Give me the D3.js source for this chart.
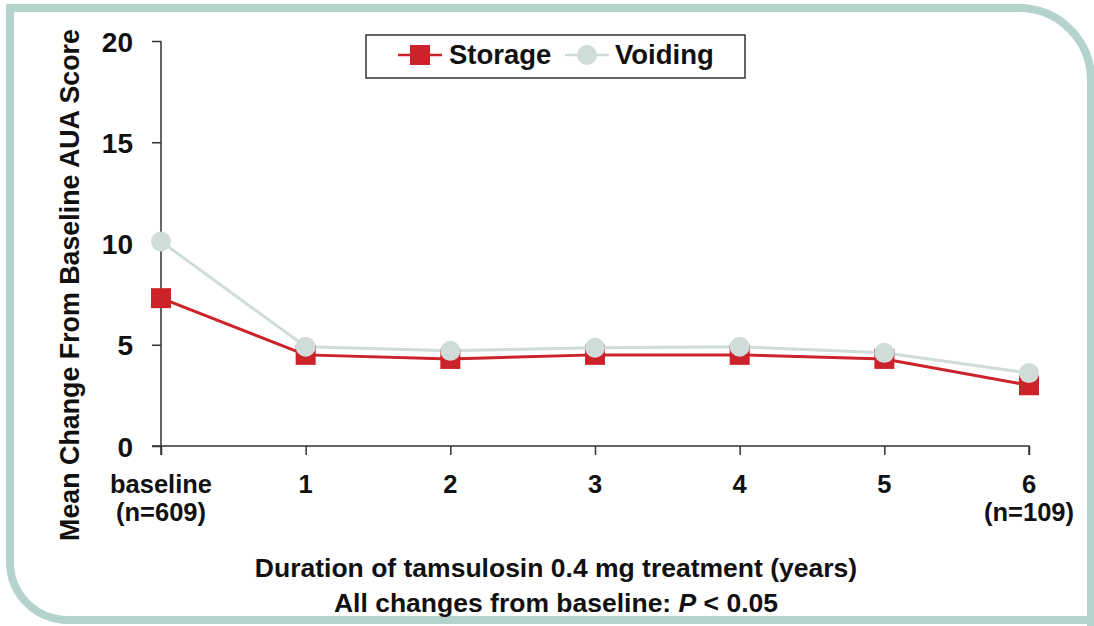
<!DOCTYPE html>
<html>
<head>
<meta charset="utf-8">
<script src="https://cdn.jsdelivr.net/npm/d3@7"></script>
<style>
  body { margin: 0; background: #fff; }
  svg { display: block; font-family: 'Liberation Sans', Arial, sans-serif; font-weight: bold; }
</style>
</head>
<body>
<svg id="chart" width="1094" height="626"></svg>
<script>
// Data
const categories = ['baseline', '1', '2', '3', '4', '5', '6'];
const subLabels = ['(n=609)', '', '', '', '', '', '(n=109)'];
const storage = [7.3, 4.5, 4.3, 4.5, 4.5, 4.3, 3.0];
const voiding = [10.1, 4.9, 4.7, 4.85, 4.9, 4.6, 3.6];
const yTicks = [0, 5, 10, 15, 20];

const red = '#cc2229';
const grey = '#d0dcd9';
const axisCol = '#333';

const svg = d3.select('#chart');

// frame with rounded corners (top-right and bottom-left)
const fx0 = 10, fy0 = 8, fx1 = 1091, fy1 = 620, rTR = 72, rBL = 58;
svg.append('path')
  .attr('d', `M${fx0},${fy1 - rBL} L${fx0},${fy0} L${fx1 - rTR},${fy0} A${rTR},${rTR} 0 0 1 ${fx1},${fy0 + rTR} L${fx1},${fy1 + 20} M${fx0},${fy1 - rBL} A${rBL},${rBL} 0 0 0 ${fx0 + rBL},${fy1} L${fx1 + 10},${fy1}`)
  .attr('fill', 'none')
  .attr('stroke', '#b3d3cc')
  .attr('stroke-width', 8);

const x = d3.scalePoint().domain(categories).range([161, 1029]);
const y = d3.scaleLinear().domain([0, 20]).range([446, 41]);

// y axis
const yAxis = svg.append('g')
  .attr('transform', 'translate(161,0)')
  .call(d3.axisLeft(y).tickValues(yTicks).tickSize(9).tickPadding(19));
yAxis.select('.domain').attr('stroke', axisCol).attr('stroke-width', 1.5).attr('d', 'M0,41V455');
yAxis.selectAll('.tick line').attr('stroke', axisCol).attr('stroke-width', 1.5);
yAxis.selectAll('.tick text')
  .attr('fill', '#111')
  .attr('dy', '0.36em')
  .style('font-size', '28px')
  .style('font-weight', 'bold')
  .style('font-family', "'Liberation Sans', Arial, sans-serif");

// x axis
const xAxis = svg.append('g')
  .attr('transform', 'translate(0,446)')
  .call(d3.axisBottom(x).tickSize(9).tickFormat(''));
xAxis.select('.domain').attr('stroke', axisCol).attr('stroke-width', 1.5).attr('d', 'M152,0H1029V9');
xAxis.selectAll('.tick line').attr('stroke', axisCol).attr('stroke-width', 1.5);

const xl = svg.append('g')
  .style('font-size', '25.5px')
  .attr('fill', '#111')
  .attr('text-anchor', 'middle');
xl.selectAll('text.cat')
  .data(categories)
  .join('text')
  .attr('class', 'cat')
  .attr('x', d => x(d))
  .attr('y', 493)
  .text(d => d);
xl.selectAll('text.sub')
  .data(categories.map((c, i) => [c, subLabels[i]]))
  .join('text')
  .attr('class', 'sub')
  .attr('x', d => x(d[0]))
  .attr('y', 521)
  .text(d => d[1]);

// axis titles
svg.append('text')
  .attr('transform', 'translate(79,285) rotate(-90)')
  .attr('text-anchor', 'middle')
  .attr('fill', '#111')
  .style('font-size', '26.8px')
  .text('Mean Change From Baseline AUA Score');

svg.append('text')
  .attr('x', 556).attr('y', 577)
  .attr('text-anchor', 'middle')
  .attr('fill', '#111')
  .style('font-size', '26.5px')
  .text('Duration of tamsulosin 0.4 mg treatment (years)');

const note = svg.append('text')
  .attr('x', 556).attr('y', 612)
  .attr('text-anchor', 'middle')
  .attr('fill', '#111')
  .style('font-size', '26.5px');
note.append('tspan').text('All changes from baseline: ');
note.append('tspan').style('font-style', 'italic').text('P');
note.append('tspan').text(' < 0.05');

// lines
const line = d3.line().x((d, i) => x(categories[i])).y(d => y(d));

svg.append('path').datum(voiding)
  .attr('d', line).attr('fill', 'none').attr('stroke', grey).attr('stroke-width', 3);
svg.append('path').datum(storage)
  .attr('d', line).attr('fill', 'none').attr('stroke', red).attr('stroke-width', 3);

const sq = 20;
svg.selectAll('rect.st')
  .data(storage)
  .join('rect')
  .attr('class', 'st')
  .attr('x', (d, i) => x(categories[i]) - sq / 2)
  .attr('y', d => y(d) - sq / 2)
  .attr('width', sq).attr('height', sq)
  .attr('fill', red);

svg.selectAll('circle.vo')
  .data(voiding)
  .join('circle')
  .attr('class', 'vo')
  .attr('cx', (d, i) => x(categories[i]))
  .attr('cy', d => y(d))
  .attr('r', 10)
  .attr('fill', grey);

// legend
const lg = svg.append('g');
lg.append('rect')
  .attr('x', 366).attr('y', 35).attr('width', 379).attr('height', 43)
  .attr('fill', '#fff').attr('stroke', '#333').attr('stroke-width', 1.5);
lg.append('line').attr('x1', 398).attr('x2', 442).attr('y1', 55).attr('y2', 55)
  .attr('stroke', red).attr('stroke-width', 2.5);
lg.append('rect').attr('x', 410).attr('y', 45).attr('width', sq).attr('height', sq).attr('fill', red);
lg.append('text').attr('x', 449).attr('y', 64).style('font-size', '27.5px').attr('fill', '#111').text('Storage');
lg.append('line').attr('x1', 565).attr('x2', 609).attr('y1', 55).attr('y2', 55)
  .attr('stroke', grey).attr('stroke-width', 2.5);
lg.append('circle').attr('cx', 587).attr('cy', 55).attr('r', 10).attr('fill', grey);
lg.append('text').attr('x', 615).attr('y', 64).style('font-size', '27.5px').attr('fill', '#111').text('Voiding');
</script>
</body>
</html>
